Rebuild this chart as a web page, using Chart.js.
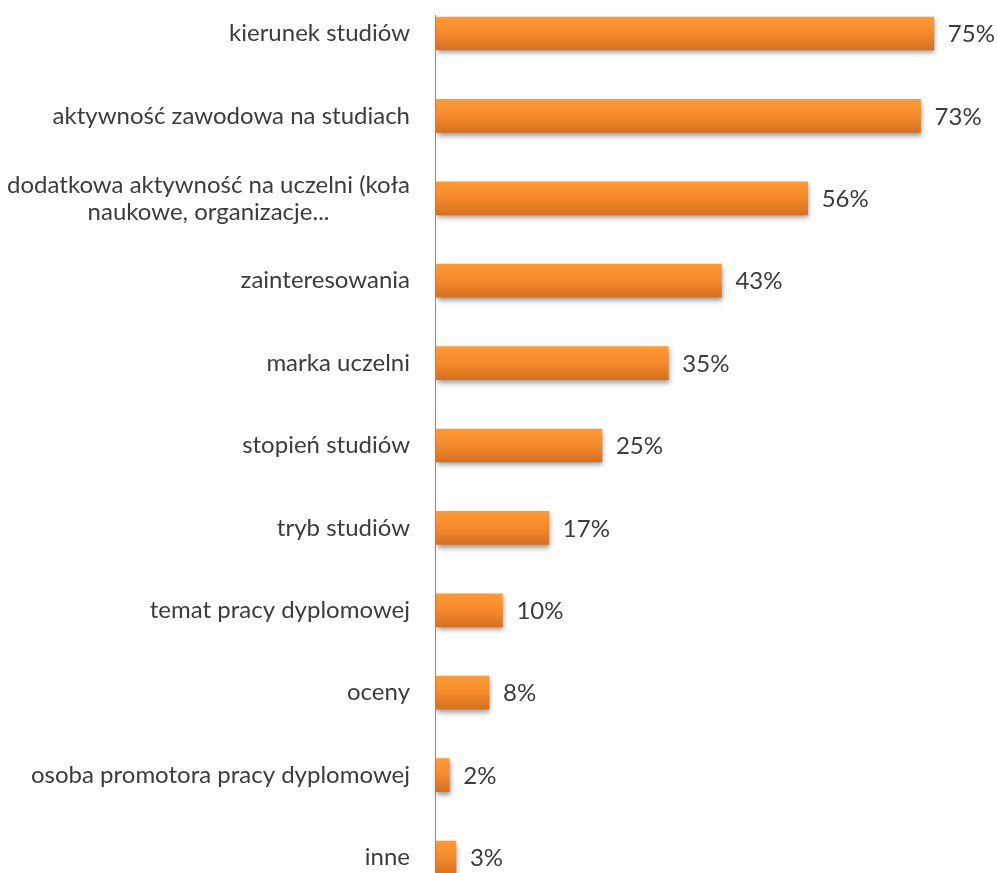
<!DOCTYPE html>
<html lang="pl">
<head>
<meta charset="utf-8">
<title>Czynniki</title>
<script src="https://cdn.jsdelivr.net/npm/chart.js@4.4.1/dist/chart.umd.min.js"></script>
<style>
  html, body { margin: 0; padding: 0; background: #ffffff; overflow: hidden; }
  #wrap { position: relative; width: 997px; height: 873px; }
</style>
</head>
<body>
<div id="wrap"><canvas id="chart"></canvas></div>
<script>
// Categories (each entry is a list of lines for wrapped labels)
const categories = [
  ['kierunek studiów'],
  ['aktywność zawodowa na studiach'],
  ['dodatkowa aktywność na uczelni (koła', 'naukowe, organizacje...'],
  ['zainteresowania'],
  ['marka uczelni'],
  ['stopień studiów'],
  ['tryb studiów'],
  ['temat pracy dyplomowej'],
  ['oceny'],
  ['osoba promotora pracy dyplomowej'],
  ['inne']
];
// Share of answers, percent
const values = [75, 73, 56, 43, 35, 25, 17, 10, 8, 2, 3];
const valueSuffix = '%';

const FONT = 'Lato, "Open Sans", sans-serif';
const FONT_SIZE = 24;
const TEXT = '#3c3c3c';
const BAR_H = 33;

// Category labels: block right-aligned to the axis, lines centered within the block
const labelPlugin = {
  id: 'categoryLabels',
  afterDraw(chart) {
    const { ctx } = chart;
    const yScale = chart.scales.y;
    const xScale = chart.scales.x;
    const right = xScale.getPixelForValue(0) - 26;
    ctx.save();
    ctx.font = FONT_SIZE + 'px ' + FONT;
    ctx.fillStyle = TEXT;
    ctx.textBaseline = 'middle';
    ctx.textAlign = 'center';
    const lineH = 27;
    categories.forEach((lines, i) => {
      const yc = yScale.getPixelForTick(i);
      const w = Math.max(...lines.map(l => ctx.measureText(l).width));
      const cx = right - w / 2;
      const y0 = yc - (lines.length - 1) * lineH / 2;
      lines.forEach((l, k) => ctx.fillText(l, cx, y0 + k * lineH));
    });
    // vertical axis line
    const x0 = Math.round(xScale.getPixelForValue(0)) - 0.5;
    ctx.strokeStyle = '#8c8c8c';
    ctx.lineWidth = 1;
    ctx.beginPath();
    ctx.moveTo(x0, 15);
    ctx.lineTo(x0, chart.height);
    ctx.stroke();
    ctx.restore();
  }
};

// Soft drop shadow under the bars
const shadowPlugin = {
  id: 'barShadow',
  beforeDatasetDraw(chart) {
    const { ctx } = chart;
    ctx.save();
    ctx.shadowColor = 'rgba(0,0,0,0.4)';
    ctx.shadowBlur = 5;
    ctx.shadowOffsetX = 1;
    ctx.shadowOffsetY = 3;
  },
  afterDatasetDraw(chart) {
    chart.ctx.restore();
  }
};

// Value labels to the right of each bar
const valuePlugin = {
  id: 'valueLabels',
  afterDatasetsDraw(chart) {
    const { ctx } = chart;
    const meta = chart.getDatasetMeta(0);
    ctx.save();
    ctx.font = FONT_SIZE + 'px ' + FONT;
    ctx.fillStyle = TEXT;
    ctx.textAlign = 'left';
    ctx.textBaseline = 'middle';
    meta.data.forEach((bar, i) => {
      ctx.fillText(values[i] + valueSuffix, bar.x + 14, bar.y + 1);
    });
    ctx.restore();
  }
};

// Vertical orange gradient per bar, placed from the category scale
function barGradient(context) {
  const chart = context.chart;
  const yScale = chart.scales && chart.scales.y;
  if (!yScale || context.dataIndex === undefined) return '#f38a2b';
  const yc = yScale.getPixelForTick(context.dataIndex);
  if (!isFinite(yc)) return '#f38a2b';
  const g = chart.ctx.createLinearGradient(0, yc - BAR_H / 2, 0, yc + BAR_H / 2);
  g.addColorStop(0, '#ff9a34');
  g.addColorStop(0.5, '#f48a2b');
  g.addColorStop(1, '#d6701f');
  return g;
}

const canvas = document.getElementById('chart');
new Chart(canvas, {
  type: 'bar',
  data: {
    labels: categories.map(c => c.join(' ')),
    datasets: [{
      data: values,
      backgroundColor: barGradient,
      borderWidth: 0,
      barThickness: BAR_H,
      clip: false
    }]
  },
  options: {
    indexAxis: 'y',
    responsive: true,
    maintainAspectRatio: false,
    animation: false,
    layout: { padding: { left: 436, right: 30, top: 33.5, bottom: 15.5 } },
    plugins: { legend: { display: false }, tooltip: { enabled: false } },
    scales: {
      x: { display: false, min: 0, max: 80 },
      y: {
        display: false,
        offset: false,
        grid: { display: false }
      }
    }
  },
  plugins: [shadowPlugin, valuePlugin, labelPlugin]
});
</script>
</body>
</html>
